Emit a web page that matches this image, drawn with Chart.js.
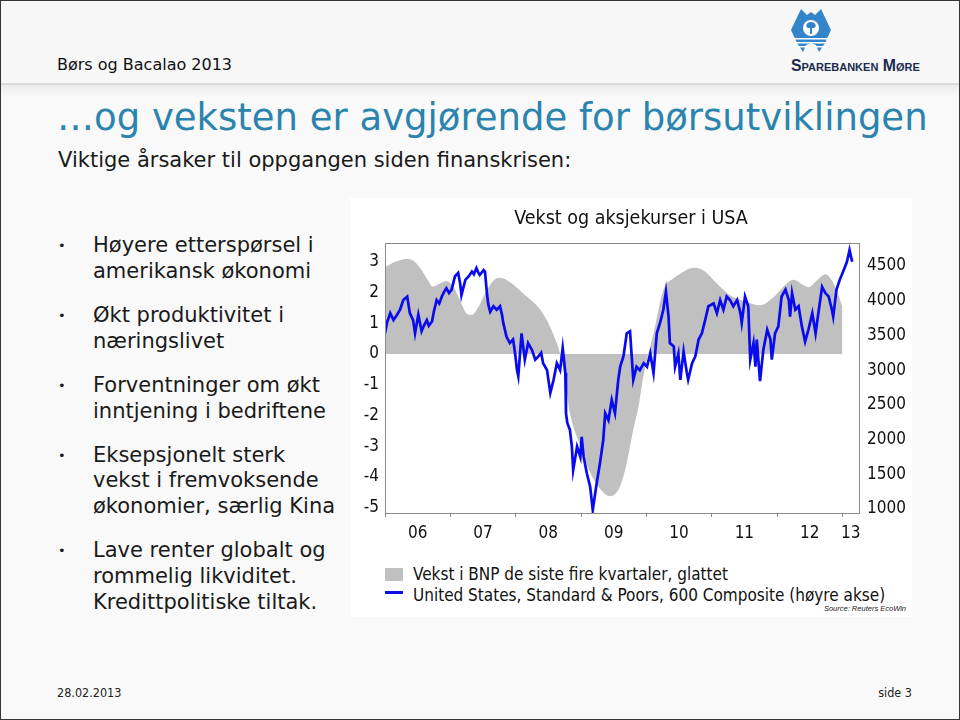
<!DOCTYPE html>
<html>
<head>
<meta charset="utf-8">
<script src="https://cdn.jsdelivr.net/npm/chart.js@4.4.1/dist/chart.umd.min.js"></script>
<style>
  html, body { margin: 0; padding: 0; }
  body { width: 960px; height: 720px; position: relative; overflow: hidden; background: #f9f9f9;
         font-family: 'DejaVu Sans', Verdana, sans-serif; color: #111; }
  .header { position: absolute; left: 0; top: 0; width: 960px; height: 83px; background: #f7f7f7; border-bottom: 2px solid #d9d9d9; }
  .shadow { position: absolute; left: 0; top: 85px; width: 960px; height: 12px; background: linear-gradient(#ebebeb, #f9f9f9); }
  .event { position: absolute; left: 57px; top: 55px; font-size: 16px; line-height: 19px; white-space: nowrap; }
  .logo-text { position: absolute; left: 791px; top: 57px; font: bold 15.8px 'Liberation Sans', Arial, sans-serif;
               font-variant: small-caps; color: #1c2b4e; white-space: nowrap; line-height: 18px; }
  .emblem { position: absolute; left: 790px; top: 5px; }
  h1 { position: absolute; left: 57px; top: 96px; margin: 0; font-weight: normal; font-size: 37px; line-height: 44px;
       color: #2a84ae; white-space: nowrap; }
  .sub { position: absolute; left: 58px; top: 148px; font-size: 21px; line-height: 24px; white-space: nowrap; color: #1a1a1a; }
  ul { position: absolute; left: 0; top: 233px; margin: 0; padding: 0; list-style: none; font-size: 21px; line-height: 25.7px; color: #1a1a1a; }
  li { position: relative; padding-left: 93px; margin-bottom: 18.5px; white-space: nowrap; }
  li::before { content: '\2022'; position: absolute; left: 58px; top: 0; font-size: 13px; }
  .panel { position: absolute; left: 350px; top: 198px; width: 562px; height: 419px; background: #fff; }
  #chart { position: absolute; left: 350px; top: 198px; }
  .lg { position: absolute; font: 17px 'DejaVu Sans Condensed', 'DejaVu Sans', sans-serif; line-height: 20px; white-space: nowrap; color: #111; }
  .lg-box { position: absolute; left: 385px; top: 568px; width: 18px; height: 13px; background: #c0c0c0; }
  .lg-line { position: absolute; left: 385px; top: 591px; width: 18px; height: 3px; background: #0a0aee; }
  .source { position: absolute; right: 54px; top: 604px; font: italic 7.5px 'Liberation Sans', Arial, sans-serif; color: #222; }
  .foot { position: absolute; top: 685px; font: 12.5px 'DejaVu Sans Condensed', 'DejaVu Sans', sans-serif; line-height: 15px; color: #222; }
  .border { position: absolute; left: 0; top: 0; width: 958px; height: 718px; border: 1px solid #333; }
</style>
</head>
<body>
<div class="header"></div>
<div class="shadow"></div>
<div class="event">Børs og Bacalao 2013</div>
<svg class="emblem" width="42" height="48" viewBox="0 0 42 48">
  <path d="M1 25 L11 4 L17 10 L21 7 L25 10 L31 4 L41 25 L35 38 L29 47 L26 40 L21 38 L16 40 L13 47 L7 38 Z" fill="#3384c8"/>
  <circle cx="21" cy="23" r="8" fill="#fff"/>
  <path d="M21 17 C16 17 15 22 18 23 L20 23 L20 29 L22 29 L22 23 L24 23 C27 22 26 17 21 17 Z" fill="#3384c8"/>
  <rect x="4" y="33" width="34" height="1.5" fill="#fff"/>
  <rect x="4" y="37" width="34" height="1.5" fill="#fff"/>
  <rect x="4" y="41" width="34" height="1.5" fill="#fff"/>
</svg>
<div class="logo-text">Sparebanken Møre</div>

<h1>…og veksten er avgjørende for børsutviklingen</h1>
<div class="sub">Viktige årsaker til oppgangen siden finanskrisen:</div>
<ul>
  <li>Høyere etterspørsel i<br>amerikansk økonomi</li>
  <li>Økt produktivitet i<br>næringslivet</li>
  <li>Forventninger om økt<br>inntjening i bedriftene</li>
  <li>Eksepsjonelt sterk<br>vekst i fremvoksende<br>økonomier, særlig Kina</li>
  <li>Lave renter globalt og<br>rommelig likviditet.<br>Kredittpolitiske tiltak.</li>
</ul>

<div class="panel"></div>
<canvas id="chart" width="562" height="352"></canvas>
<div class="lg-box"></div>
<div class="lg" style="left:413px;top:564px">Vekst i BNP de siste fire kvartaler, glattet</div>
<div class="lg-line"></div>
<div class="lg" style="left:413px;top:585px">United States, Standard &amp; Poors, 600 Composite (høyre akse)</div>
<div class="source">Source: Reuters EcoWin</div>

<div class="foot" style="left:57px">28.02.2013</div>
<div class="foot" style="right:48px">side 3</div>
<div class="border"></div>

<script>
// US GDP growth, last four quarters, smoothed (left axis, %)
const gdpDates = [2006.00, 2006.15, 2006.33, 2006.43, 2006.54, 2006.66, 2006.73, 2006.84, 2006.94, 2007.05,
  2007.15, 2007.25, 2007.33, 2007.43, 2007.53, 2007.66, 2007.76, 2007.91, 2008.12, 2008.32,
  2008.45, 2008.55, 2008.63, 2008.68, 2008.76, 2008.83, 2008.99, 2009.14, 2009.34, 2009.45,
  2009.60, 2009.70, 2009.80, 2009.88, 2009.94, 2010.03, 2010.11, 2010.26, 2010.41, 2010.52,
  2010.72, 2010.87, 2011.08, 2011.28, 2011.54, 2011.74, 2011.95, 2012.15, 2012.25, 2012.41,
  2012.48, 2012.61, 2012.74, 2012.84, 2012.94, 2013.00];
const gdpGrowth = [2.83, 3.0, 3.1, 3.05, 2.8, 2.4, 2.2, 2.3, 2.38, 2.18,
  1.75, 1.32, 1.27, 1.54, 1.97, 2.4, 2.49, 2.35, 1.97, 1.59,
  1.21, 0.78, 0.35, 0.0, -0.9, -1.92, -3.0, -3.87, -4.5, -4.63,
  -4.3, -3.55, -2.47, -1.71, -0.9, 0.0, 0.67, 2.08, 2.46, 2.62,
  2.81, 2.73, 2.3, 1.92, 1.7, 1.59, 1.86, 2.3, 2.42, 2.24,
  2.18, 2.4, 2.6, 2.4, 1.92, 1.54];

// S&P 600 Composite (right axis)
const spxDates = [2006.00, 2006.03, 2006.08, 2006.13, 2006.18, 2006.23, 2006.28, 2006.34, 2006.38, 2006.43,
  2006.46, 2006.51, 2006.56, 2006.60, 2006.64, 2006.67, 2006.72, 2006.75, 2006.79, 2006.83,
  2006.87, 2006.90, 2006.94, 2006.98, 2007.02, 2007.07, 2007.12, 2007.15, 2007.17, 2007.23,
  2007.28, 2007.33, 2007.36, 2007.40, 2007.43, 2007.45, 2007.51, 2007.53, 2007.56, 2007.58,
  2007.61, 2007.66, 2007.71, 2007.76, 2007.79, 2007.81, 2007.86, 2007.91, 2007.96, 2007.99,
  2008.02, 2008.04, 2008.09, 2008.12, 2008.14, 2008.19, 2008.25, 2008.30, 2008.35, 2008.39,
  2008.42, 2008.48, 2008.53, 2008.58, 2008.63, 2008.68, 2008.72, 2008.76, 2008.77, 2008.79,
  2008.83, 2008.86, 2008.88, 2008.94, 2008.99, 2009.01, 2009.04, 2009.09, 2009.14, 2009.18,
  2009.24, 2009.29, 2009.34, 2009.37, 2009.42, 2009.47, 2009.52, 2009.57, 2009.60, 2009.65,
  2009.70, 2009.75, 2009.80, 2009.85, 2009.90, 2009.96, 2010.01, 2010.06, 2010.11, 2010.16,
  2010.21, 2010.26, 2010.30, 2010.34, 2010.36, 2010.42, 2010.44, 2010.49, 2010.52, 2010.57,
  2010.62, 2010.64, 2010.70, 2010.75, 2010.80, 2010.85, 2010.90, 2010.95, 2011.03, 2011.08,
  2011.13, 2011.18, 2011.23, 2011.28, 2011.33, 2011.39, 2011.44, 2011.46, 2011.51, 2011.56,
  2011.59, 2011.64, 2011.67, 2011.69, 2011.74, 2011.79, 2011.85, 2011.90, 2011.92, 2011.97,
  2012.02, 2012.07, 2012.13, 2012.18, 2012.20, 2012.23, 2012.28, 2012.33, 2012.38, 2012.43,
  2012.48, 2012.54, 2012.59, 2012.64, 2012.69, 2012.74, 2012.79, 2012.84, 2012.86, 2012.91,
  2012.96, 2013.02, 2013.07, 2013.11, 2013.15];
const spxIndex = [3530, 3680, 3820, 3720, 3790, 3870, 4010, 4060, 3820, 3720,
  3530, 3800, 3560, 3650, 3720, 3640, 3700, 3850, 4010, 3960,
  4060, 4120, 4180, 4110, 4160, 4350, 4400, 4250, 4080, 4300,
  4350, 4420, 4380, 4470, 4400, 4370, 4440, 4420, 4110, 3950,
  3840, 3920, 3870, 3920, 3800, 3680, 3480, 3390, 3440, 3250,
  3000, 2910, 3530, 3300, 3150, 3390, 3290, 3150, 3200, 3250,
  3100, 3000, 2670, 2860, 3100, 3000, 3320, 2960, 2380, 2240,
  2140, 1900, 1560, 1900, 1750, 2040, 1750, 1510, 1320, 985,
  1370, 1660, 1990, 2380, 2280, 2570, 2380, 2860, 3050, 3200,
  3530, 3560, 2860, 3050, 3000, 3100, 3050, 3240, 2960, 3530,
  3680, 3870, 4130, 3770, 3390, 3340, 3050, 3240, 2860, 3270,
  2960, 2860, 3100, 3200, 3440, 3530, 3720, 3920, 3960, 3820,
  4010, 3870, 4060, 4010, 3920, 4010, 3820, 3680, 4060, 3920,
  3150, 3390, 3050, 3440, 2840, 3290, 3580, 3440, 3150, 3530,
  3630, 4060, 4160, 4010, 3770, 4110, 3870, 3920, 3630, 3410,
  3580, 3820, 3530, 3870, 4200, 4110, 4060, 3870, 3770, 4160,
  4300, 4440, 4560, 4730, 4560];

// axes
const yearTicks = [2006, 2007, 2008, 2009, 2010, 2011, 2012, 2013];
const yearLabelPos = [2006.5, 2007.5, 2008.5, 2009.5, 2010.5, 2011.5, 2012.5, 2013.13];
const yearLabels = ['06', '07', '08', '09', '10', '11', '12', '13'];
const leftTicks = [-5, -4, -3, -2, -1, 0, 1, 2, 3];
const rightTicks = [1000, 1500, 2000, 2500, 3000, 3500, 4000, 4500];

const chartFont = "'DejaVu Sans Condensed', 'DejaVu Sans', sans-serif";

// plot box drawn round the chart area
const frame = {
  id: 'frame',
  afterDraw(chart) {
    const { ctx, chartArea: a } = chart;
    ctx.save();
    ctx.strokeStyle = '#8a8a8a';
    ctx.lineWidth = 1;
    ctx.strokeRect(Math.round(a.left) + 0.5, Math.round(a.top) + 0.5,
      Math.round(a.right - a.left) - 1, Math.round(a.bottom - a.top));
    ctx.restore();
  }
};

const ctx = document.getElementById('chart').getContext('2d');
new Chart(ctx, {
  type: 'line',
  data: {
    datasets: [
      {
        label: 'Vekst i BNP de siste fire kvartaler, glattet',
        data: gdpDates.map((d, i) => ({ x: d, y: gdpGrowth[i] })),
        yAxisID: 'y',
        backgroundColor: '#c0c0c0',
        borderWidth: 0,
        borderColor: 'rgba(0,0,0,0)',
        fill: 'origin',
        pointRadius: 0,
        cubicInterpolationMode: 'monotone',
        order: 2
      },
      {
        label: 'United States, Standard & Poors, 600 Composite (høyre akse)',
        data: spxDates.map((d, i) => ({ x: d, y: spxIndex[i] })),
        yAxisID: 'y1',
        borderColor: '#0a0aee',
        borderWidth: 2.7,
        fill: false,
        pointRadius: 0,
        tension: 0,
        order: 1
      }
    ]
  },
  options: {
    responsive: false,
    animation: false,
    plugins: {
      legend: { display: false },
      tooltip: { enabled: false },
      title: {
        display: true,
        text: 'Vekst og aksjekurser i USA',
        color: '#111',
        font: { family: chartFont, size: 19.5, weight: 'normal' },
        padding: { top: 9.3, bottom: 12.3 }
      }
    },
    scales: {
      x: {
        type: 'linear',
        min: 2006,
        max: 2013.27,
        afterBuildTicks: (s) => { s.ticks = yearTicks.concat(yearLabelPos).sort((a, b) => a - b).map(v => ({ value: v })); },
        afterFit: (s) => { s.height = 37; },
        border: { display: false },
        grid: {
          drawOnChartArea: false,
          tickLength: 4,
          color: (c) => (c.tick && Number.isInteger(c.tick.value)) ? '#8a8a8a' : 'rgba(0,0,0,0)'
        },
        ticks: {
          autoSkip: false,
          maxRotation: 0,
          padding: 6,
          color: '#111',
          font: { family: chartFont, size: 17 },
          callback: (v) => { const i = yearLabelPos.indexOf(v); return i >= 0 ? yearLabels[i] : ''; }
        }
      },
      y: {
        position: 'left',
        min: -5.18,
        max: 3.62,
        afterBuildTicks: (s) => { s.ticks = leftTicks.map(v => ({ value: v })); },
        afterFit: (s) => { s.width = 35; },
        border: { display: false },
        grid: { drawOnChartArea: false, drawTicks: false, color: 'rgba(0,0,0,0)' },
        ticks: { padding: 6, color: '#111', font: { family: chartFont, size: 17 }, callback: (v) => String(v) }
      },
      y1: {
        position: 'right',
        min: 942,
        max: 4831,
        afterBuildTicks: (s) => { s.ticks = rightTicks.map(v => ({ value: v })); },
        afterFit: (s) => { s.width = 52; },
        border: { display: false },
        grid: { drawOnChartArea: false, drawTicks: false, color: 'rgba(0,0,0,0)' },
        ticks: { padding: 7, color: '#111', font: { family: chartFont, size: 17 }, callback: (v) => String(v) }
      }
    }
  },
  plugins: [frame]
});
</script>
</body>
</html>
